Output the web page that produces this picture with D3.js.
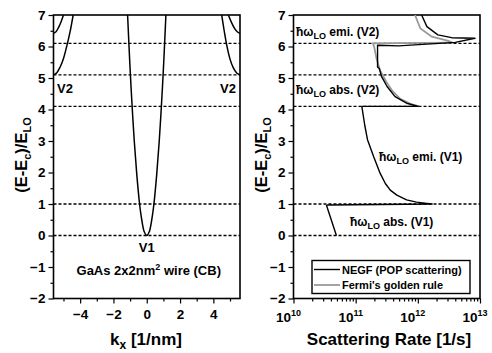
<!DOCTYPE html>
<html lang="en">
<head>
<meta charset="UTF-8">
<title>GaAs wire bands and scattering rate</title>
<style>
	body { margin: 0; background: #fff; }
	svg text { font-family: "Liberation Sans", Arial, sans-serif; font-weight: bold; fill: #000; }
</style>
<script src="https://d3js.org/d3.v7.min.js"></script>
</head>
<body>
<script>
	// ---- data ----
	const levels = [0, 1, 4.1, 5.1, 6.1]; // dashed reference energies

	// left panel: dispersion branches (k in 1/nm, E in units of E_LO)
	const v1K = [-1.15, -1.02, -0.9, -0.75, -0.6, -0.43, -0.3, -0.15, 0, 0.15, 0.3, 0.43, 0.6, 0.75, 0.9, 1.02, 1.15];
	const v1E = [7.0, 5.5, 4.3, 3.0, 1.95, 1.0, 0.5, 0.12, 0, 0.12, 0.5, 1.0, 1.95, 3.0, 4.3, 5.5, 7.0];
	const v2LeftK = [-5.6, -5.4, -5.2, -5.0, -4.8, -4.6, -4.42];
	const v2LeftE = [5.1, 5.17, 5.35, 5.62, 6.02, 6.48, 7.0];
	const v2RightK = [4.5, 4.65, 4.8, 5.0, 5.2, 5.4, 5.6];
	const v2RightE = [7.0, 6.5, 6.05, 5.6, 5.32, 5.16, 5.1];
	const v3LeftK = [-5.6, -5.45, -5.3, -5.15, -5.0];
	const v3LeftE = [6.42, 6.47, 6.6, 6.78, 7.0];
	const v3RightK = [4.9, 5.1, 5.3, 5.45, 5.6];
	const v3RightE = [7.0, 6.75, 6.55, 6.46, 6.42];

	// right panel: scattering rate [1/s] vs energy
	const negfRate = [4.9e10, 3.4e10, 3.5e10, 1.7e12, 1.4e12, 9.5e11, 6.6e11, 4.6e11, 3.6e11, 3.0e11, 2.47e11, 1.95e11, 1.55e11, 1.4e11, 1.26e11,
		1.26e11, 1.02e12, 6.6e11, 4.3e11, 3.2e11, 2.6e11, 2.4e11, 2.25e11, 2.25e11, 4.9e11, 4.0e12, 8.3e12, 3.5e12,
		2.1e12, 1.4e12, 1.15e12];
	const negfE = [0, 0.95, 0.97, 1.0, 1.02, 1.06, 1.13, 1.28, 1.44, 1.65, 1.98, 2.5, 3.04, 3.5, 4.08,
		4.1, 4.1, 4.2, 4.41, 4.73, 5.05, 5.3, 5.35, 6.04, 6.02, 6.13, 6.26, 6.28,
		6.37, 6.63, 7.0];
	const fgrRate = [1.05e12, 7.6e11, 5.2e11, 3.9e11, 3.1e11, 2.45e11, 2.15e11, 2.0e11, 1.9e11, 3.6e12, 3.1e12, 1.68e12, 1.1e12, 9.0e11];
	const fgrE = [4.1, 4.18, 4.34, 4.59, 4.88, 5.26, 5.64, 5.96, 6.1, 6.12, 6.18, 6.31, 6.57, 7.0];

	const yTicks = [-2, -1, 0, 1, 2, 3, 4, 5, 6, 7];
	const kTicks = [-4, -2, 0, 2, 4];
	const rateTicks = [1e10, 1e11, 1e12, 1e13];

	// ---- layout ----
	const width = 492, height = 353;
	const plotTop = 15, plotBottom = 298.5;
	const svg = d3.select("body").append("svg")
		.attr("width", width)
		.attr("height", height);

	const y = d3.scaleLinear().domain([-2, 7]).range([plotBottom, plotTop]);
	const xk = d3.scaleLinear().domain([-5.6, 5.6]).range([53.5, 240]);
	const xr = d3.scaleLog().domain([1e10, 1e13]).range([293.5, 480]);

	function zip(a, b) { return a.map((v, i) => [v, b[i]]); }

	function panel(xr0, xr1, id) {
		const g = svg.append("g");
		svg.append("clipPath").attr("id", id).append("rect")
			.attr("x", xr0).attr("y", plotTop).attr("width", xr1 - xr0).attr("height", plotBottom - plotTop);

		// dashed level lines
		g.selectAll(".lvl").data(levels).join("line")
			.attr("x1", xr0).attr("x2", xr1)
			.attr("y1", d => y(d)).attr("y2", d => y(d))
			.attr("stroke", "#000").attr("stroke-width", 1.3).attr("stroke-dasharray", "3,2");

		// y axis, major + minor
		const minor = d3.range(-2, 7.01, 0.5).filter(d => !Number.isInteger(d));
		g.append("g").attr("transform", `translate(${xr0},0)`)
			.call(d3.axisLeft(y).tickValues(minor).tickSize(3).tickFormat(""))
			.call(a => a.select(".domain").remove());
		g.append("g").attr("transform", `translate(${xr0},0)`)
			.call(d3.axisLeft(y).tickValues(yTicks).tickSize(5).tickPadding(3).tickFormat(d3.format("d")))
			.call(a => a.select(".domain").remove())
			.call(a => a.selectAll("text").attr("font-size", 13.5).style("font-family", "Liberation Sans").style("font-weight", "bold"));
		g.selectAll(".tick line").attr("stroke-width", 1.2);

		// frame
		g.append("rect").attr("x", xr0).attr("y", plotTop).attr("width", xr1 - xr0).attr("height", plotBottom - plotTop)
			.attr("fill", "none").attr("stroke", "#000").attr("stroke-width", 1.6);
		return g;
	}

	// ---- left panel ----
	panel(53.5, 240, "clipL");
	const xAxisL = svg.append("g").attr("transform", `translate(0,${plotBottom})`);
	xAxisL.append("g")
		.call(d3.axisBottom(xk).tickValues([-5, -3, -1, 1, 3, 5]).tickSize(3).tickFormat(""))
		.call(a => a.select(".domain").remove());
	xAxisL.append("g")
		.call(d3.axisBottom(xk).tickValues(kTicks).tickSize(5).tickPadding(6).tickFormat(d3.format("d")))
		.call(a => a.select(".domain").remove())
		.call(a => a.selectAll("text").attr("font-size", 13.5).style("font-family", "Liberation Sans").style("font-weight", "bold"));
	xAxisL.selectAll(".tick line").attr("stroke-width", 1.2);

	const bands = [zip(v1K, v1E), zip(v2LeftK, v2LeftE), zip(v2RightK, v2RightE), zip(v3LeftK, v3LeftE), zip(v3RightK, v3RightE)];
	svg.append("g").attr("clip-path", "url(#clipL)")
		.selectAll("path").data(bands).join("path")
		.attr("d", d => d3.line().x(p => xk(p[0])).y(p => y(p[1])).curve(d3.curveCatmullRom)(d))
		.attr("fill", "none").attr("stroke", "#000").attr("stroke-width", 1.5);

	svg.append("text").attr("x", 57).attr("y", 93).attr("font-size", 13).text("V2");
	svg.append("text").attr("x", 236).attr("y", 93).attr("font-size", 13).attr("text-anchor", "end").text("V2");
	svg.append("text").attr("x", xk(0)).attr("y", 252).attr("font-size", 13).attr("text-anchor", "middle").text("V1");
	const ga = svg.append("text").attr("x", xk(0) + 2).attr("y", 275).attr("font-size", 13).attr("text-anchor", "middle");
	ga.append("tspan").text("GaAs 2x2nm");
	ga.append("tspan").attr("dy", -5).attr("font-size", 9).text("2");
	ga.append("tspan").attr("dy", 5).text(" wire (CB)");

	// ---- right panel ----
	panel(293.5, 480, "clipR");
	const xAxisR = svg.append("g").attr("transform", `translate(0,${plotBottom})`);
	const minorR = [];
	[1e10, 1e11, 1e12].forEach(b => { for (let m = 2; m <= 9; m++) minorR.push(b * m); });
	xAxisR.append("g")
		.call(d3.axisBottom(xr).tickValues(minorR).tickSize(3).tickFormat(""))
		.call(a => a.select(".domain").remove());
	xAxisR.append("g")
		.call(d3.axisBottom(xr).tickValues(rateTicks).tickSize(5).tickFormat(""))
		.call(a => a.select(".domain").remove());
	xAxisR.selectAll(".tick line").attr("stroke-width", 1.2);
	rateTicks.forEach(t => {
		const lab = svg.append("text").attr("x", xr(t) - 5).attr("y", plotBottom + 23).attr("font-size", 13.5).attr("text-anchor", "middle");
		lab.append("tspan").text("10");
		lab.append("tspan").attr("dy", -6).attr("font-size", 9).text(Math.round(Math.log10(t)));
	});

	const lineR = d3.line().x(d => xr(d[0])).y(d => y(d[1]));
	const plotR = svg.append("g").attr("clip-path", "url(#clipR)");
	plotR.append("path").datum(zip(fgrRate, fgrE)).attr("d", lineR)
		.attr("fill", "none").attr("stroke", "#999").attr("stroke-width", 1.8);
	plotR.append("path").datum(zip(negfRate, negfE)).attr("d", lineR)
		.attr("fill", "none").attr("stroke", "#000").attr("stroke-width", 1.4).attr("stroke-linejoin", "round");

	function hwLabel(x, yy, rest) {
		const t = svg.append("text").attr("x", x).attr("y", yy).attr("font-size", 12);
		t.append("tspan").text("\u0127\u03C9");
		t.append("tspan").attr("dy", 3).attr("font-size", 9).text("LO");
		t.append("tspan").attr("dy", -3).text(" " + rest);
	}
	hwLabel(296, 36, "emi. (V2)");
	hwLabel(296, 94, "abs. (V2)");
	hwLabel(379, 161, "emi. (V1)");
	hwLabel(350, 226, "abs. (V1)");

	// legend
	const lg = svg.append("g");
	lg.append("rect").attr("x", 312).attr("y", 260.5).attr("width", 158).attr("height", 33)
		.attr("fill", "#fff").attr("stroke", "#000").attr("stroke-width", 1.4);
	lg.append("line").attr("x1", 314).attr("x2", 340).attr("y1", 269.5).attr("y2", 269.5).attr("stroke", "#000").attr("stroke-width", 1.4);
	lg.append("line").attr("x1", 314).attr("x2", 340).attr("y1", 285).attr("y2", 285).attr("stroke", "#999").attr("stroke-width", 1.8);
	lg.append("text").attr("x", 342).attr("y", 273.5).attr("font-size", 11).text("NEGF (POP scattering)");
	lg.append("text").attr("x", 342).attr("y", 289).attr("font-size", 11).text("Fermi's golden rule");

	// axis titles
	function yTitle(x) {
		const t = svg.append("text").attr("transform", `translate(${x},155) rotate(-90)`)
			.attr("font-size", 16.5).attr("text-anchor", "middle");
		t.append("tspan").text("(E-E");
		t.append("tspan").attr("dy", 4).attr("font-size", 11).text("c");
		t.append("tspan").attr("dy", -4).text(")/E");
		t.append("tspan").attr("dy", 4).attr("font-size", 11).text("LO");
	}
	yTitle(27);
	yTitle(267);

	const kt = svg.append("text").attr("x", 146).attr("y", 345).attr("font-size", 17).attr("text-anchor", "middle");
	kt.append("tspan").text("k");
	kt.append("tspan").attr("dy", 4).attr("font-size", 12).text("x");
	kt.append("tspan").attr("dy", -4).text(" [1/nm]");
	svg.append("text").attr("x", 389).attr("y", 345).attr("font-size", 17).attr("text-anchor", "middle").text("Scattering Rate [1/s]");
</script>
</body>
</html>
